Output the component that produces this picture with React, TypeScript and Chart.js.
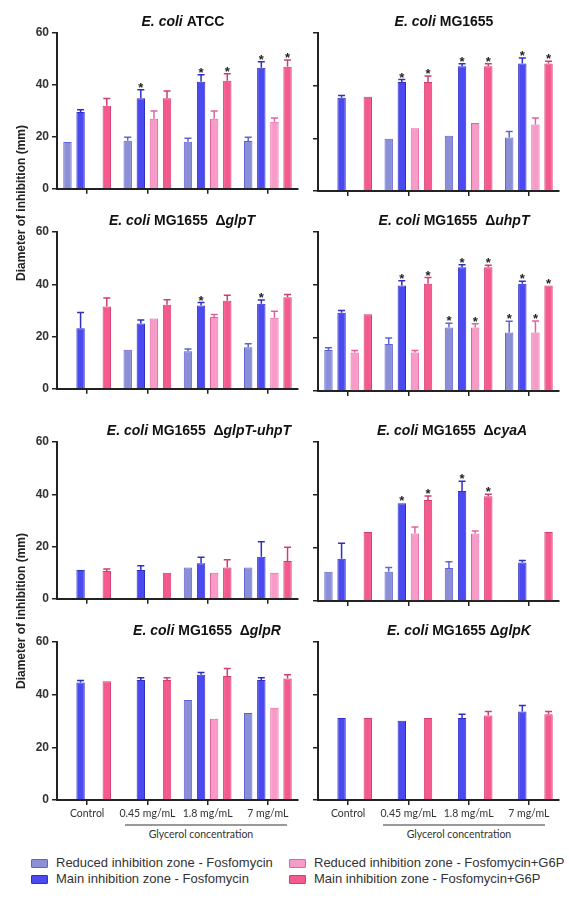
import React, { useEffect, useRef } from "react";
import { Chart, registerables } from "chart.js";

Chart.register(...registerables);

// ---------- data ----------
const CATEGORIES = ["Control", "0.45 mg/mL", "1.8 mg/mL", "7 mg/mL"];
const SERIES_NAMES = [
  "Reduced inhibition zone - Fosfomycin",
  "Main inhibition zone - Fosfomycin",
  "Reduced inhibition zone - Fosfomycin+G6P",
  "Main inhibition zone - Fosfomycin+G6P",
];
const Y_MIN = 0;
const Y_MAX = 60;
const Y_STEP = 20;
const X_AXIS_TITLE = "Glycerol concentration";
const Y_AXIS_TITLE = "Diameter of inhibition (mm)";

// rows = series (reduced F, main F, reduced F+G6P, main F+G6P); columns = categories
const ATCC_MEAN = [
  [18, 18.5, 18.1, 18.4],
  [29.6, 34.9, 41.2, 46.6],
  [null, 27, 27, 25.8],
  [32, 34.9, 41.6, 47],
];
const ATCC_ERR = [
  [0, 1.4, 1.4, 1.5],
  [0.8, 3.2, 2.7, 2.3],
  [0, 3, 3, 1.5],
  [2.8, 2.8, 2.7, 2.6],
];
const ATCC_STAR = [
  [0, 0, 0, 0],
  [0, 1, 1, 1],
  [0, 0, 0, 0],
  [0, 0, 1, 1],
];

const MG_MEAN = [
  [null, 19.8, 21, 20.3],
  [35.4, 41.4, 47.4, 48.4],
  [null, 23.8, 25.8, 25.3],
  [35.8, 41.4, 47.4, 48.4],
];
const MG_ERR = [
  [0, 0, 0, 2.3],
  [0.9, 0.9, 0.9, 2.1],
  [0, 0, 0, 2.4],
  [0, 2.3, 0.9, 0.9],
];
const MG_STAR = [
  [0, 0, 0, 0],
  [0, 1, 1, 1],
  [0, 0, 0, 0],
  [0, 1, 1, 1],
];

const GLPT_MEAN = [
  [null, 14.9, 14.4, 15.9],
  [23.2, 25, 31.9, 32.5],
  [null, 26.9, 27.5, 27.2],
  [31.5, 32.2, 33.7, 35],
];
const GLPT_ERR = [
  [0, 0, 0.8, 1.3],
  [6, 1.3, 1.1, 1.5],
  [0, 0, 0.9, 2.5],
  [3.2, 1.9, 2.1, 1.1],
];
const GLPT_STAR = [
  [0, 0, 0, 0],
  [0, 0, 1, 1],
  [0, 0, 0, 0],
  [0, 0, 0, 0],
];

const UHPT_MEAN = [
  [15.5, 17.7, 24, 22.1],
  [29.5, 39.8, 46.7, 40.5],
  [14.5, 14.5, 24, 22.1],
  [29, 40.5, 46.7, 39.8],
];
const UHPT_ERR = [
  [0.8, 2.3, 1.6, 4.2],
  [0.9, 1.8, 0.9, 0.9],
  [0.8, 0.8, 1.4, 4.3],
  [0, 2.3, 0.8, 0],
];
const UHPT_STAR = [
  [0, 0, 1, 1],
  [0, 1, 1, 1],
  [0, 0, 1, 1],
  [0, 1, 1, 1],
];

const GLPTUHPT_MEAN = [
  [null, null, 12, 12],
  [11, 11, 13.6, 16.1],
  [null, null, 10, 10],
  [10.6, 10, 12, 14.5],
];
const GLPTUHPT_ERR = [
  [0, 0, 0, 0],
  [0, 1.6, 2.3, 5.7],
  [0, 0, 0, 0],
  [0.8, 0, 2.9, 5.2],
];
const GLPTUHPT_STAR = [
  [0, 0, 0, 0],
  [0, 0, 0, 0],
  [0, 0, 0, 0],
  [0, 0, 0, 0],
];

const CYAA_MEAN = [
  [11, 11, 12.5, null],
  [15.9, 36.9, 41.5, 14.5],
  [null, 25.5, 25.5, null],
  [26, 38.1, 39.5, 26],
];
const CYAA_ERR = [
  [0, 1.6, 2.3, 0],
  [5.9, 0, 3.7, 0.8],
  [0, 2.4, 0.9, 0],
  [0, 1.5, 0.8, 0],
];
const CYAA_STAR = [
  [0, 0, 0, 0],
  [0, 1, 1, 0],
  [0, 0, 0, 0],
  [0, 1, 1, 0],
];

const GLPR_MEAN = [
  [null, null, 38, 33],
  [44.6, 45.6, 47.6, 45.6],
  [null, null, 30.9, 35],
  [45.1, 45.6, 47.1, 46.1],
];
const GLPR_ERR = [
  [0, 0, 0, 0],
  [0.8, 0.8, 0.8, 0.8],
  [0, 0, 0, 0],
  [0, 0.8, 2.8, 1.5],
];
const GLPR_STAR = [
  [0, 0, 0, 0],
  [0, 0, 0, 0],
  [0, 0, 0, 0],
  [0, 0, 0, 0],
];

const GLPK_MEAN = [
  [null, null, null, null],
  [31.1, 30.1, 31.1, 33.6],
  [null, null, null, null],
  [31.1, 31.1, 32.1, 32.6],
];
const GLPK_ERR = [
  [0, 0, 0, 0],
  [0, 0, 1.5, 2.3],
  [0, 0, 0, 0],
  [0, 0, 1.5, 1],
];
const GLPK_STAR = [
  [0, 0, 0, 0],
  [0, 0, 0, 0],
  [0, 0, 0, 0],
  [0, 0, 0, 0],
];

// title pieces: [text, italic]
const PANELS = [
  { title: [["E. coli", true], [" ATCC", false]], mean: ATCC_MEAN, err: ATCC_ERR, star: ATCC_STAR, titleX: 183 },
  { title: [["E. coli", true], [" MG1655", false]], mean: MG_MEAN, err: MG_ERR, star: MG_STAR, titleX: 444 },
  { title: [["E. coli", true], [" MG1655  \u0394", false], ["glpT", true]], mean: GLPT_MEAN, err: GLPT_ERR, star: GLPT_STAR, titleX: 182 },
  { title: [["E. coli", true], [" MG1655  \u0394", false], ["uhpT", true]], mean: UHPT_MEAN, err: UHPT_ERR, star: UHPT_STAR, titleX: 454 },
  { title: [["E. coli", true], [" MG1655  \u0394", false], ["glpT-uhpT", true]], mean: GLPTUHPT_MEAN, err: GLPTUHPT_ERR, star: GLPTUHPT_STAR, titleX: 199 },
  { title: [["E. coli", true], [" MG1655  \u0394", false], ["cyaA", true]], mean: CYAA_MEAN, err: CYAA_ERR, star: CYAA_STAR, titleX: 452 },
  { title: [["E. coli", true], [" MG1655  \u0394", false], ["glpR", true]], mean: GLPR_MEAN, err: GLPR_ERR, star: GLPR_STAR, titleX: 207 },
  { title: [["E. coli", true], [" MG1655 \u0394", false], ["glpK", true]], mean: GLPK_MEAN, err: GLPK_ERR, star: GLPK_STAR, titleX: 459 },
];

// ---------- styles / layout ----------
const FILLS = ["#8a8fd6", "#4a4af0", "#f79bc9", "#f45a8d"];
const BORDERS = ["#5d63d6", "#2f2fc4", "#e0629f", "#d23d70"];
const ROW_Y = [
  [33, 191],
  [232, 391],
  [442, 601],
  [642, 800],
];
const SANS = "'Liberation Sans', Arial, sans-serif";
const LABEL_FONT = "Lato, 'Open Sans', sans-serif";
const AXIS_COLOR = "#222";

const errorStarPlugin = {
  id: "errorStars",
  afterDatasetsDraw(chart: any) {
    const ctx = chart.ctx;
    const ys = chart.scales.y;
    chart.data.datasets.forEach((ds: any, i: number) => {
      const meta = chart.getDatasetMeta(i);
      meta.data.forEach((bar: any, j: number) => {
        const v = ds.data[j];
        if (v == null) return;
        const e = (ds.errors && ds.errors[j]) || 0;
        const topY = ys.getPixelForValue(v + e);
        ctx.save();
        if (e > 0) {
          ctx.strokeStyle = ds.borderColor;
          ctx.lineWidth = 1.5;
          ctx.beginPath();
          ctx.moveTo(bar.x, bar.y);
          ctx.lineTo(bar.x, topY);
          ctx.moveTo(bar.x - 3.5, topY);
          ctx.lineTo(bar.x + 3.5, topY);
          ctx.stroke();
        }
        if (ds.stars && ds.stars[j]) {
          ctx.fillStyle = "#222";
          ctx.font = `bold 13px ${SANS}`;
          ctx.textAlign = "center";
          ctx.textBaseline = "alphabetic";
          ctx.fillText("*", bar.x, topY + 2);
        }
        ctx.restore();
      });
    });
  },
};

const titlePlugin = {
  id: "panelTitle",
  afterDraw(chart: any) {
    const opts = chart.options.plugins.panelTitle;
    if (!opts) return;
    const ctx = chart.ctx;
    ctx.save();
    const fontFor = (it: boolean) => `${it ? "italic " : ""}bold 14px ${SANS}`;
    let total = 0;
    opts.pieces.forEach((p: any) => {
      ctx.font = fontFor(p[1]);
      total += ctx.measureText(p[0]).width;
    });
    let x = opts.cx - total / 2;
    const y = chart.chartArea.top - 11;
    ctx.fillStyle = "#111";
    ctx.textBaseline = "middle";
    ctx.textAlign = "left";
    opts.pieces.forEach((p: any) => {
      ctx.font = fontFor(p[1]);
      ctx.fillText(p[0], x, y);
      x += ctx.measureText(p[0]).width;
    });
    ctx.restore();
  },
};

function Panel({ index }: { index: number }) {
  const ref = useRef<HTMLCanvasElement>(null);
  const spec = PANELS[index];
  const row = Math.floor(index / 2);
  const col = index % 2;
  const left = col === 0 ? 0 : 300;
  const width = col === 0 ? 300 : 269;
  const yAxisW = col === 0 ? 57 : 18;
  const areaRight = col === 0 ? 298 : 559;
  const [y60, y0] = ROW_Y[row];
  const top = y60 - 30;
  const bottomRow = row === 3;
  const xH = bottomRow ? 22 : 8;
  const height = y0 - top + xH;

  useEffect(() => {
    if (!ref.current) return;
    const chart = new Chart(ref.current, {
      type: "bar",
      data: {
        labels: CATEGORIES,
        datasets: SERIES_NAMES.map((name, i) => ({
          label: name,
          data: spec.mean[i],
          errors: spec.err[i],
          stars: spec.star[i],
          backgroundColor: FILLS[i],
          borderColor: BORDERS[i],
          borderWidth: 1,
          categoryPercentage: 0.87,
          barPercentage: 0.64,
        })) as any,
      },
      options: {
        animation: false,
        responsive: false,
        devicePixelRatio: 1,
        events: [],
        layout: {
          padding: { top: 30, bottom: 0, left: 0, right: width - (areaRight - left) },
        },
        plugins: {
          legend: { display: false },
          tooltip: { enabled: false },
          panelTitle: { pieces: spec.title, cx: spec.titleX - left },
        } as any,
        scales: {
          x: {
            offset: true,
            grid: {
              display: true,
              drawOnChartArea: false,
              drawTicks: true,
              tickLength: 5,
              tickWidth: 1.5,
              color: AXIS_COLOR,
              lineWidth: 1.5,
              offset: false,
            },
            border: { display: true, color: AXIS_COLOR, width: 2 },
            ticks: {
              display: bottomRow,
              autoSkip: false,
              maxRotation: 0,
              padding: 2,
              color: "#333",
              font: { family: LABEL_FONT, size: 10.5 },
            },
            afterFit: (s: any) => {
              s.height = xH;
            },
          },
          y: {
            min: Y_MIN,
            max: Y_MAX,
            grid: {
              display: true,
              drawOnChartArea: false,
              drawTicks: true,
              tickLength: 5,
              tickWidth: 1.5,
              color: AXIS_COLOR,
              lineWidth: 1.5,
            },
            border: { display: true, color: AXIS_COLOR, width: 2 },
            ticks: {
              display: col === 0,
              stepSize: Y_STEP,
              padding: 3,
              color: "#333",
              font: { family: SANS, size: 12, weight: "bold" },
            },
            afterFit: (s: any) => {
              s.width = yAxisW;
            },
          },
        },
      } as any,
      plugins: [errorStarPlugin, titlePlugin],
    });
    return () => chart.destroy();
  }, []);

  return (
    <canvas
      ref={ref}
      width={width}
      height={height}
      style={{ position: "absolute", left, top, width, height }}
    />
  );
}

function LegendItem({ i, x, y }: { i: number; x: number; y: number }) {
  return (
    <div style={{ position: "absolute", left: x, top: y - 8, height: 16, display: "flex", alignItems: "center", whiteSpace: "nowrap" }}>
      <div
        style={{
          width: 15,
          height: 7,
          background: FILLS[i],
          border: `1px solid ${BORDERS[i]}`,
          borderRadius: 1,
          marginRight: 8,
          marginTop: 2,
        }}
      />
      <span style={{ fontFamily: SANS, fontSize: 13, color: "#333" }}>{SERIES_NAMES[i]}</span>
    </div>
  );
}

export default function App() {
  return (
    <div style={{ position: "absolute", left: 0, top: 0, width: 569, height: 898, background: "#fff", overflow: "hidden" }}>
      {PANELS.map((_, i) => (
        <Panel key={i} index={i} />
      ))}
      {[203, 611].map((cy, k) => (
        <div
          key={k}
          style={{
            position: "absolute",
            left: 21 - 100,
            top: cy - 8,
            width: 200,
            height: 16,
            lineHeight: "16px",
            textAlign: "center",
            transform: "rotate(-90deg)",
            fontFamily: SANS,
            fontWeight: "bold",
            fontSize: 12,
            color: "#222",
            whiteSpace: "nowrap",
          }}
        >
          {Y_AXIS_TITLE}
        </div>
      ))}
      {[
        [125, 287],
        [383, 545],
      ].map(([a, b], k) => (
        <React.Fragment key={k}>
          <div style={{ position: "absolute", left: a, top: 824, width: b - a, height: 1.5, background: "#999" }} />
          <div
            style={{
              position: "absolute",
              left: (a + b) / 2 - 5 - 80,
              top: 827,
              width: 160,
              textAlign: "center",
              fontFamily: LABEL_FONT,
              fontSize: 10.5,
              color: "#333",
              lineHeight: "14px",
            }}
          >
            {X_AXIS_TITLE}
          </div>
        </React.Fragment>
      ))}
      <LegendItem i={0} x={31} y={862} />
      <LegendItem i={1} x={31} y={878} />
      <LegendItem i={2} x={289} y={862} />
      <LegendItem i={3} x={289} y={878} />
    </div>
  );
}
